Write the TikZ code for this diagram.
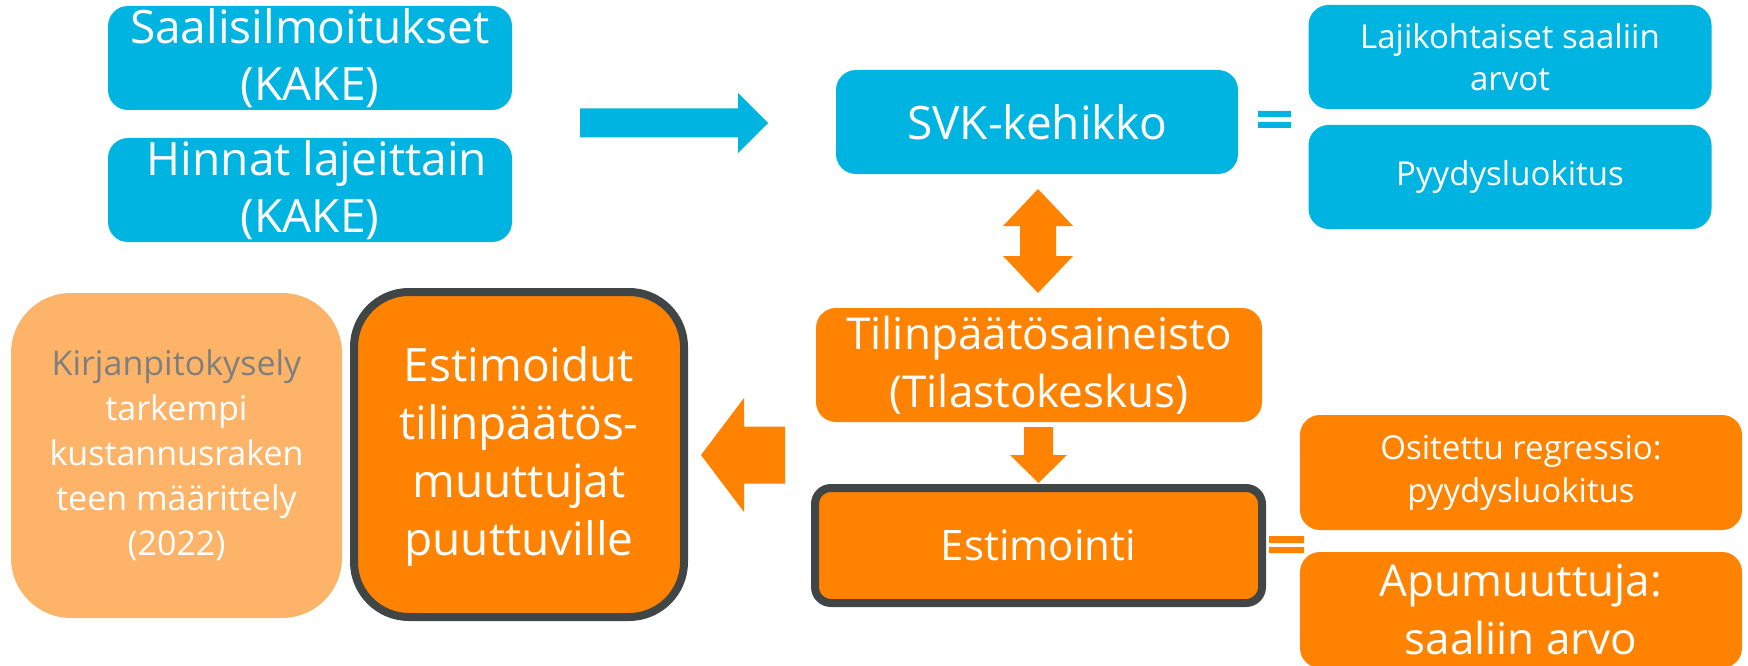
\documentclass[tikz,border=0pt]{standalone}
\usepackage{fontspec}
\setmainfont{Open Sans}
\usepackage{xcolor}
\definecolor{SkyBox}{HTML}{00B4E1}
\definecolor{OrangeBox}{HTML}{FF8200}
\definecolor{PaleOrange}{HTML}{FDB469}
\definecolor{DarkRim}{HTML}{404545}
\definecolor{GreyText}{HTML}{7F7F7F}

\tikzset{
  skybox/.style={fill=SkyBox, rounded corners=20pt, text=white, align=center, inner sep=0pt},
  orangebox/.style={fill=OrangeBox, rounded corners=20pt, text=white, align=center, inner sep=0pt},
  rimbox/.style={orangebox, draw=DarkRim, line width=8pt},
}

\begin{document}
\begin{tikzpicture}[x=1pt,y=1pt,yscale=-1,xscale=1]
		\useasboundingbox (0,0) rectangle (1748,666);
		\clip (0,0) rectangle (1748,666);

		% Blue source boxes on the left
		\node[skybox, minimum width=404pt, minimum height=104pt, font=\fontsize{46}{57}\selectfont] (saalis) at (310,58) {Saalisilmoitukset\\(KAKE)};
		\node[skybox, minimum width=404pt, minimum height=104pt, font=\fontsize{46}{57}\selectfont] (hinnat) at (310,190) {\hspace*{14pt}Hinnat lajeittain\\(KAKE)};

		% Blue arrow pointing right
		\fill[SkyBox, shift={(580,123)}] (0,-14.5) -- (158,-14.5) -- (158,-30) -- (188,0) -- (158,30) -- (158,14.5) -- (0,14.5) -- cycle;

		% Frame box and its parts
		\node[skybox, minimum width=402pt, minimum height=104pt, font=\fontsize{46}{57}\selectfont] (svk) at (1037,122) {SVK-kehikko};
		\fill[SkyBox] (1258,111) rectangle (1291,117) (1258,122) rectangle (1291,128);
		\node[skybox, minimum width=403pt, minimum height=104pt, font=\fontsize{33}{42}\selectfont] (lajit) at (1510,57) {Lajikohtaiset saaliin\\arvot};
		\node[skybox, minimum width=403pt, minimum height=104pt, font=\fontsize{33}{42}\selectfont] (pyydys) at (1510,177) {Pyydysluokitus};

		% Orange double arrow between frame and accounts
		\fill[OrangeBox, shift={(1038,189)}] (0,0) -- (35,37) -- (18,37) -- (18,67) -- (35,67) -- (0,104) -- (-35,67) -- (-18,67) -- (-18,37) -- (-35,37) -- cycle;

		% Accounts data
		\node[orangebox, minimum width=446pt, minimum height=114pt, font=\fontsize{44}{58}\selectfont] (tilin) at (1039,365) {Tilinpäätösaineisto\\(Tilastokeskus)};

		% Orange arrow pointing down
		\fill[OrangeBox, shift={(1038.5,427)}] (-14.5,0) -- (14.5,0) -- (14.5,28) -- (28.5,28) -- (0,56) -- (-28.5,28) -- (-14.5,28) -- cycle;

		% Estimation and its parts
		\node[rimbox, rounded corners=16pt, minimum width=447pt, minimum height=115pt, font=\fontsize{42}{58}\selectfont] (estim) at (1038.5,545.5) {Estimointi};
		\fill[OrangeBox] (1269,536) rectangle (1304,543) (1269,547) rectangle (1304,553);
		\node[orangebox, minimum width=442pt, minimum height=115pt, font=\fontsize{33}{43}\selectfont] (ositettu) at (1521,472.5) {Ositettu regressio:\\pyydysluokitus};
		\node[orangebox, minimum width=442pt, minimum height=116pt, font=\fontsize{44}{58}\selectfont] (apu) at (1521,610) {Apumuuttuja:\\saaliin arvo};

		% Orange arrow pointing left
		\fill[OrangeBox, shift={(701,455)}] (0,0) -- (43,-57) -- (43,-28.5) -- (84,-28.5) -- (84,28.5) -- (43,28.5) -- (43,57) -- cycle;

		% Results and the survey
		\node[rimbox, rounded corners=55pt, minimum width=330pt, minimum height=325pt, font=\fontsize{46}{58}\selectfont] (estimoidut) at (519,454.5) {\rule{0pt}{40pt}Estimoidut\\tilinpäätös-\\muuttujat\\puuttuville};
		\node[orangebox, fill=PaleOrange, rounded corners=60pt, minimum width=331pt, minimum height=325pt, font=\fontsize{34}{45}\selectfont] (kirjan) at (176.5,455.5) {\textcolor{GreyText}{Kirjanpitokysely}\\tarkempi\\kustannusraken\\teen määrittely\\(2022)};
	\end{tikzpicture}
\end{document}
